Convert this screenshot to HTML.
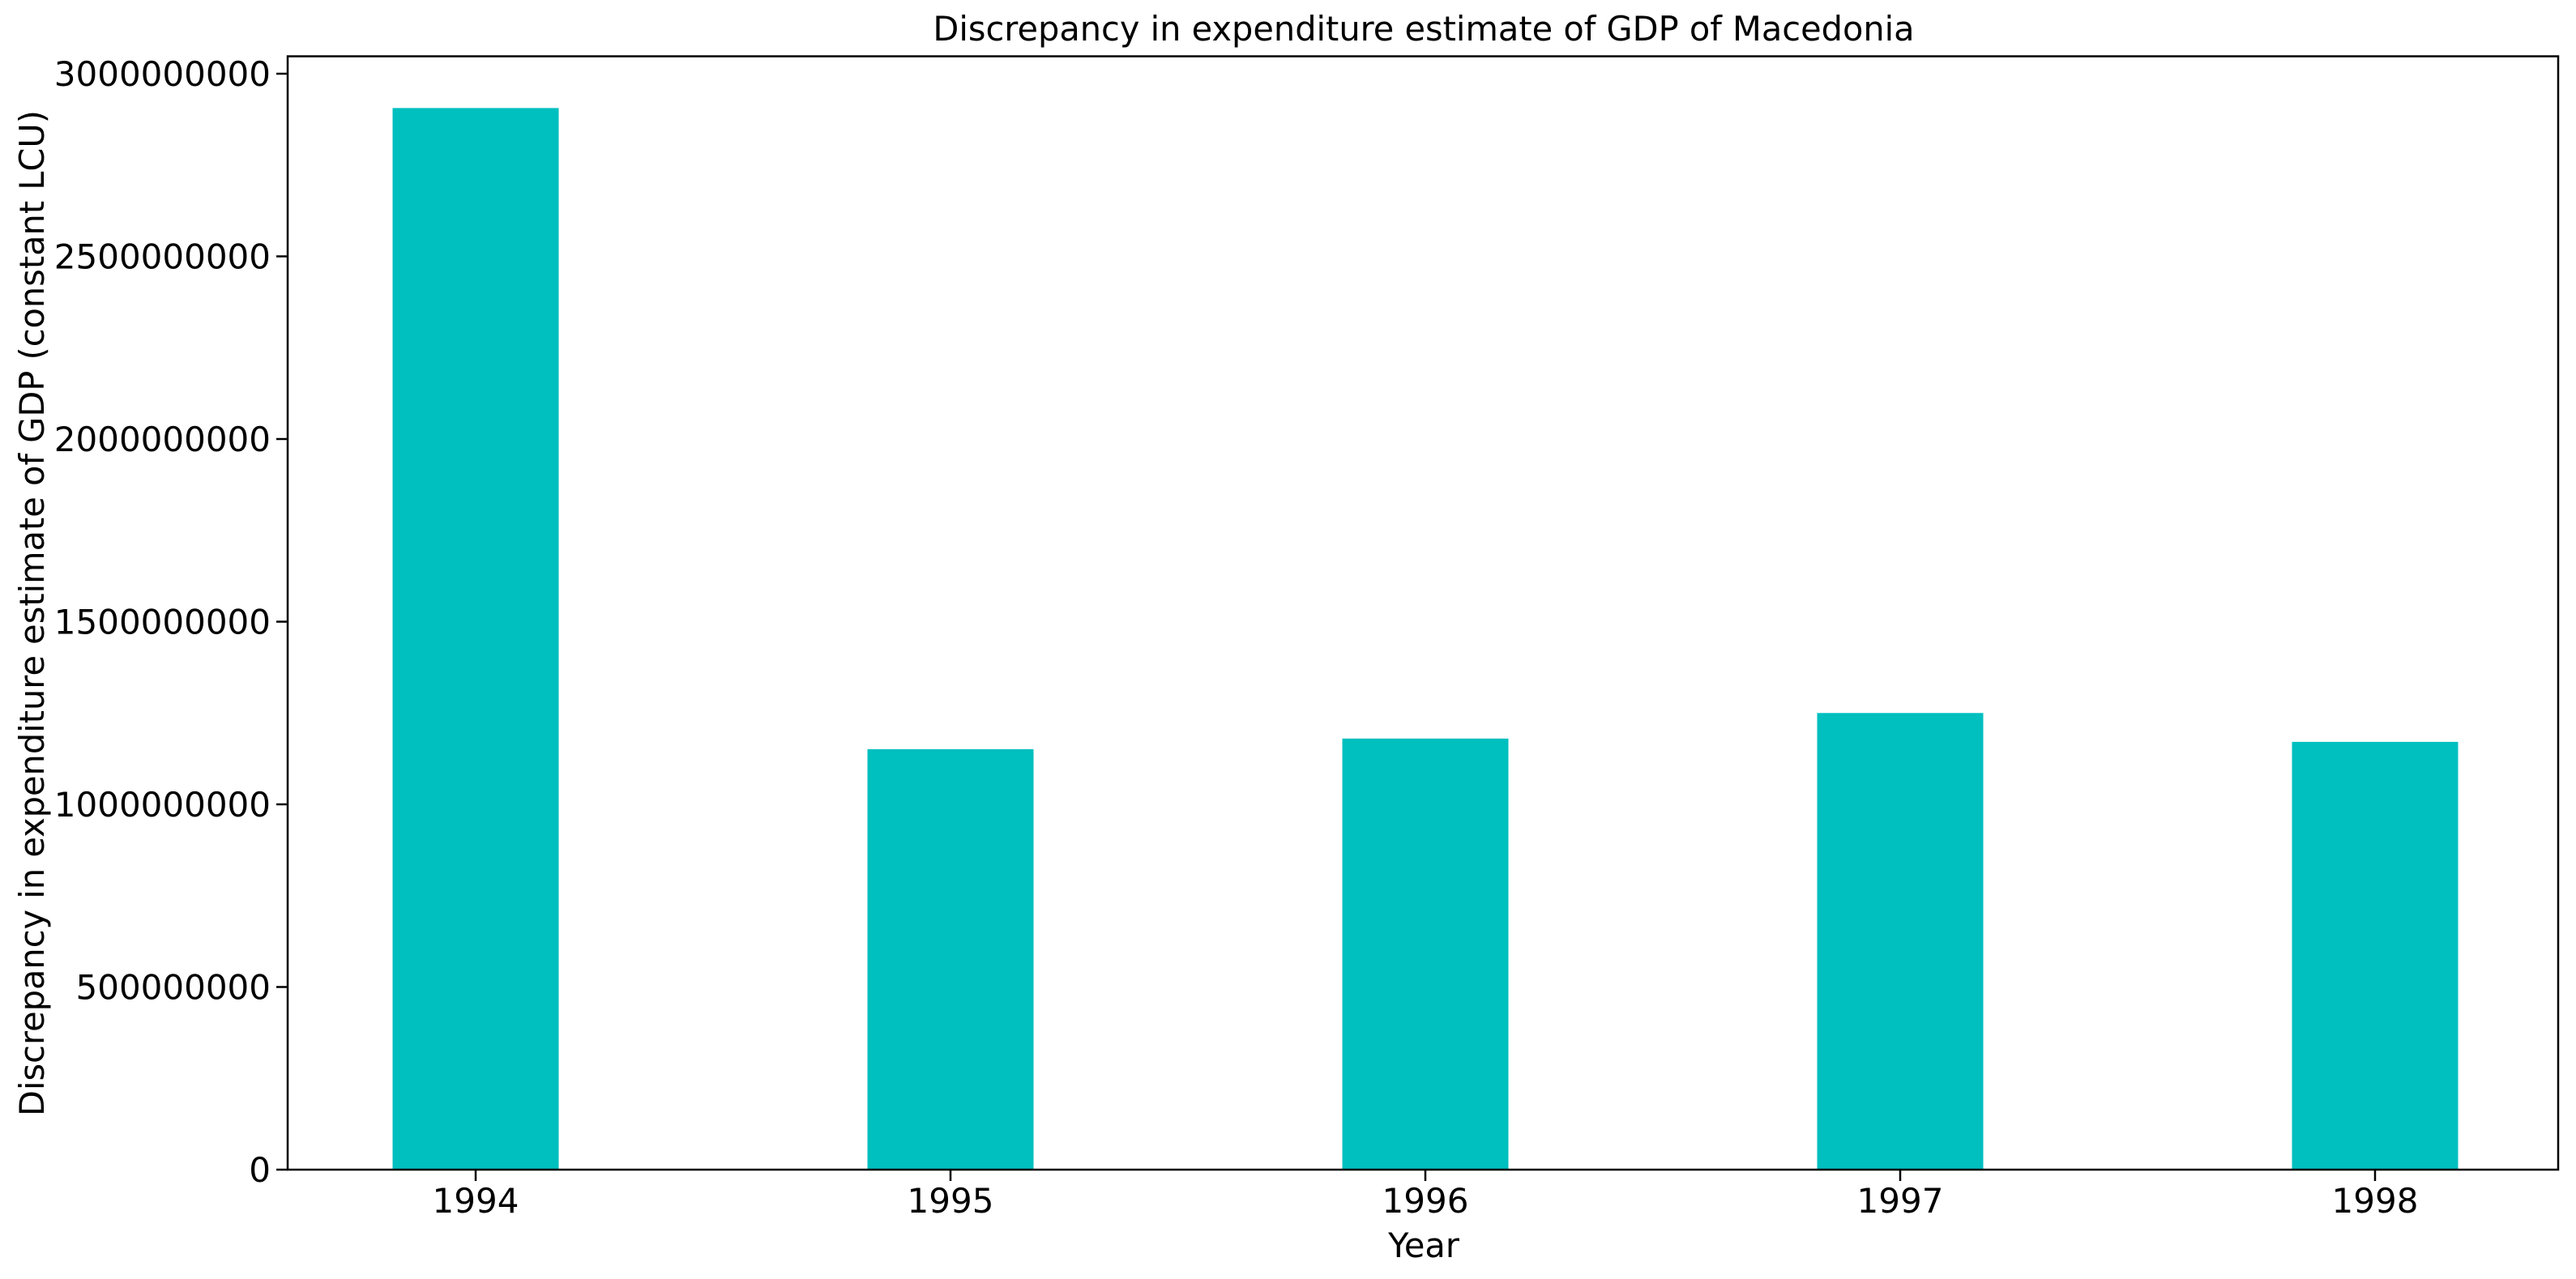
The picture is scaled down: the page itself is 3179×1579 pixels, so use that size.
<!DOCTYPE html>
<html><head><meta charset="utf-8"><style>
body{margin:0;background:#fff}
svg{display:block;font-family:"DejaVu Sans","Liberation Sans",sans-serif}
</style></head><body>
<svg id="chart" width="3179" height="1579" viewBox="0 0 3179 1579" xmlns="http://www.w3.org/2000/svg">
<rect width="3179" height="1579" fill="#fff"/>
<text x="1757" y="50" font-size="41.5" text-anchor="middle">Discrepancy in expenditure estimate of GDP of Macedonia</text>
<text x="1757" y="1552" font-size="41.5" text-anchor="middle">Year</text>
<text transform="translate(54,757) rotate(-90)" font-size="41.5" text-anchor="middle">Discrepancy in expenditure estimate of GDP (constant LCU)</text>
<g id="bars"></g>
<g id="yticks"></g>
<g id="xticks"></g>
<rect x="355" y="69.5" width="2802" height="1374.5" fill="none" stroke="#000" stroke-width="2.5"/>
</svg>
<script>
const categories = ["1994","1995","1996","1997","1998"];
const values = [2906000000, 1151000000, 1180000000, 1250000000, 1171000000];
const yTicks = [0, 500000000, 1000000000, 1500000000, 2000000000, 2500000000, 3000000000];
const yTickLabels = ["0","500000000","1000000000","1500000000","2000000000","2500000000","3000000000"];

const NS = "http://www.w3.org/2000/svg";
const y0px = 1444, pxPerUnit = 451 / 1e9;
const yScale = v => y0px - v * pxPerUnit;
const firstX = 587, step = 586, barW = 205;
const xScale = i => firstX + i * step;

const gb = document.getElementById('bars');
values.forEach((v, i) => {
  const r = document.createElementNS(NS, 'rect');
  
  
  r.setAttribute('x', xScale(i) - barW / 2);
  r.setAttribute('y', yScale(v));
  r.setAttribute('width', barW);
  r.setAttribute('height', y0px - yScale(v));
  r.setAttribute('fill', '#00bfbf');
  gb.appendChild(r);
});

const gy = document.getElementById('yticks');
yTicks.forEach((t, i) => {
  const y = yScale(t);
  const l = document.createElementNS(NS, 'line');
  
  
  l.setAttribute('x1', 341); l.setAttribute('x2', 355);
  l.setAttribute('y1', y); l.setAttribute('y2', y);
  l.setAttribute('stroke', '#000'); l.setAttribute('stroke-width', 2.5);
  gy.appendChild(l);
  const tx = document.createElementNS(NS, 'text');
  
  
  tx.setAttribute('x', 334); tx.setAttribute('y', y + 15);
  tx.setAttribute('font-size', 42); tx.setAttribute('text-anchor', 'end');
  tx.textContent = yTickLabels[i];
  gy.appendChild(tx);
});

const gx = document.getElementById('xticks');
categories.forEach((c, i) => {
  const x = xScale(i);
  const l = document.createElementNS(NS, 'line');
  
  
  l.setAttribute('x1', x); l.setAttribute('x2', x);
  l.setAttribute('y1', 1444); l.setAttribute('y2', 1458);
  l.setAttribute('stroke', '#000'); l.setAttribute('stroke-width', 2.5);
  gx.appendChild(l);
  const tx = document.createElementNS(NS, 'text');
  
  
  tx.setAttribute('x', x); tx.setAttribute('y', 1497);
  tx.setAttribute('font-size', 42); tx.setAttribute('text-anchor', 'middle');
  tx.textContent = c;
  gx.appendChild(tx);
});
</script>
</body></html>
